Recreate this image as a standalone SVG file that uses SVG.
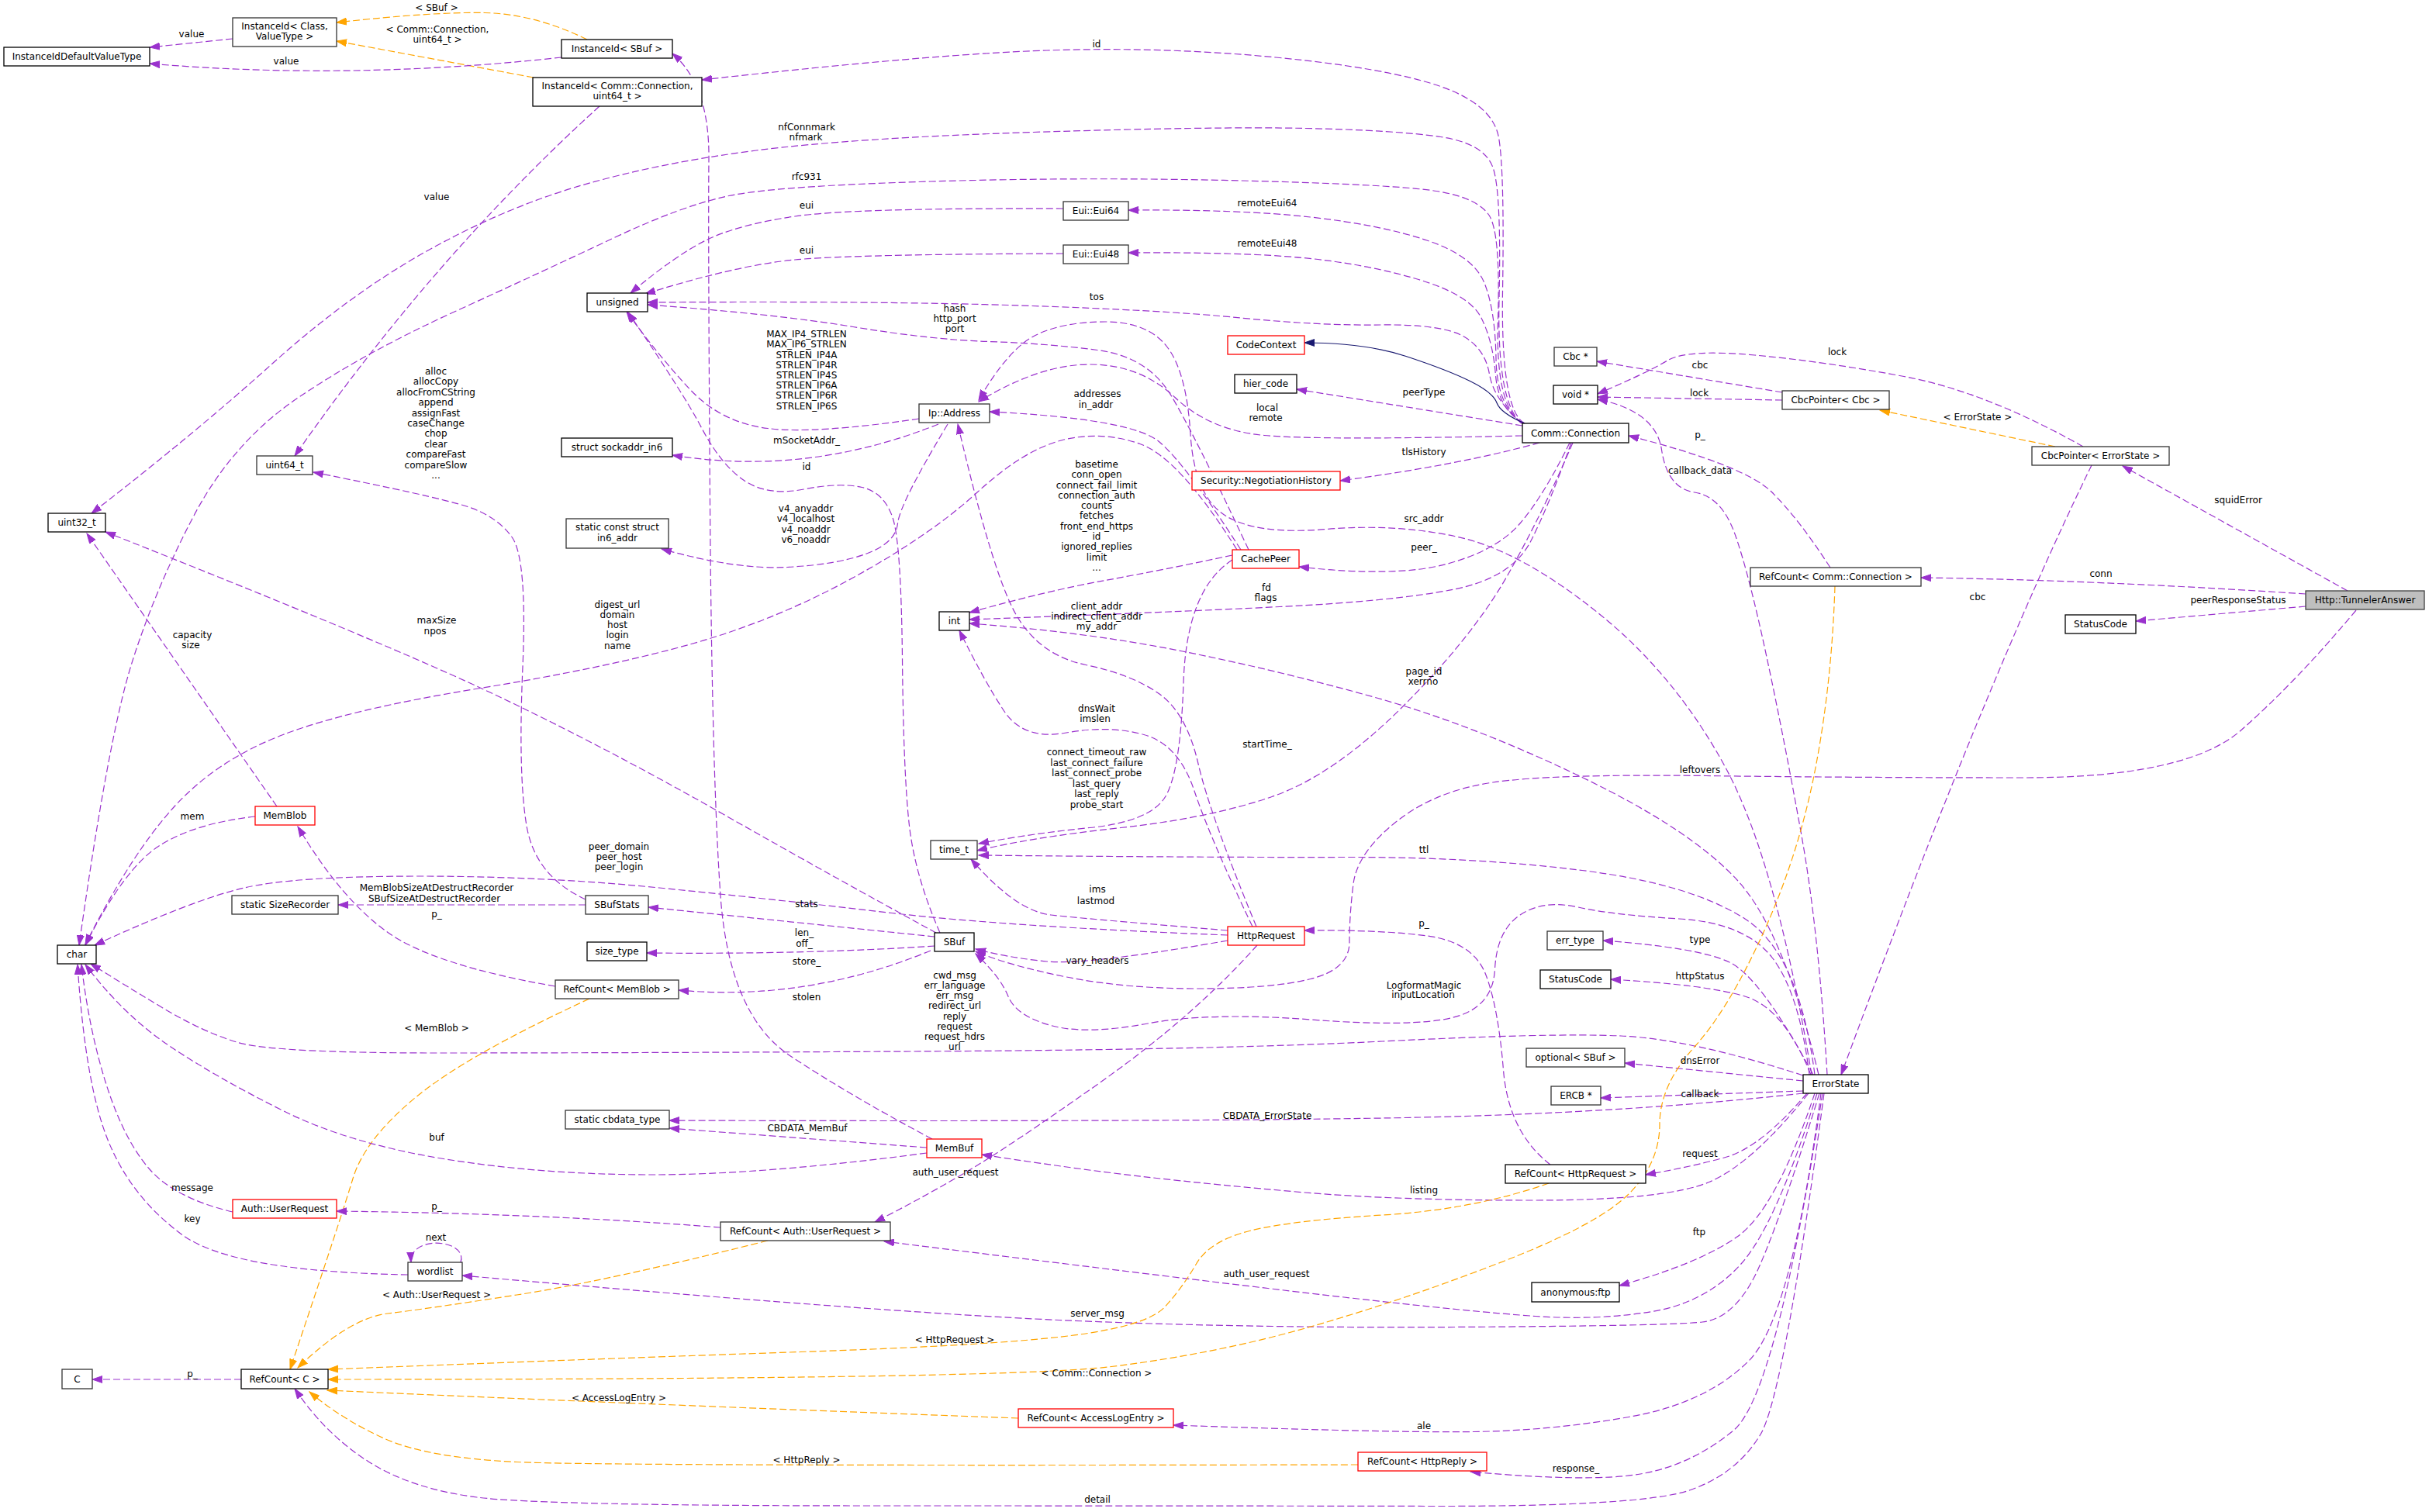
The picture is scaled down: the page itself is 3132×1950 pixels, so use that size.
<svg xmlns="http://www.w3.org/2000/svg" width="3132" height="1950" viewBox="0 0 3132 1950">
<style>
.nd rect{fill:#fff;stroke:#000;stroke-width:1.3}
.gy rect{stroke:#333}
.rd rect{stroke:#f00}
.fl rect{fill:#bfbfbf;stroke:#404040}
text{font-family:"DejaVu Sans","Liberation Sans",sans-serif;font-size:12px;fill:#000;text-anchor:middle}
.c{fill:none;stroke-width:1.2;stroke-dasharray:9,4}
.u{stroke:#9a32cd;marker-end:url(#au)}
.t{stroke:#ffa500;marker-end:url(#at)}
.i{stroke:#191970;stroke-dasharray:none;marker-end:url(#ai)}
</style>
<defs>
<marker id="au" markerUnits="userSpaceOnUse" markerWidth="14" markerHeight="10" viewBox="0 0 14 10" refX="13" refY="5" orient="auto"><path d="M0,0.5 L13,5 L0,9.5 z" fill="#9a32cd" stroke="#9a32cd"/></marker>
<marker id="at" markerUnits="userSpaceOnUse" markerWidth="14" markerHeight="10" viewBox="0 0 14 10" refX="13" refY="5" orient="auto"><path d="M0,0.5 L13,5 L0,9.5 z" fill="#ffa500" stroke="#ffa500"/></marker>
<marker id="ai" markerUnits="userSpaceOnUse" markerWidth="14" markerHeight="10" viewBox="0 0 14 10" refX="13" refY="5" orient="auto"><path d="M0,0.5 L13,5 L0,9.5 z" fill="#191970" stroke="#191970"/></marker>
</defs>
<rect width="3132" height="1950" fill="#fff"/>
<g id="connectors">
<path class="c t" d="M757,51 Q690,18 625,16.5 Q560,15 434,29"/>
<path class="c t" d="M688,100 L434,53"/>
<path class="c u" d="M300,50 L193,61"/>
<path class="c u" d="M724,74 Q450,104 193,82"/>
<path class="c u" d="M773,137 Q560,330 380,588"/>
<path class="c u" d="M1966,546 Q1935,530 1937.5,375 Q1940,220 1932.5,177.5 Q1925,135 1857.5,111.5 Q1790,88 1645,74 Q1500,60 1350,65 Q1200,70 905,103"/>
<path class="c u" d="M1962,546 Q1930,520 1933,385 Q1936,250 1925.5,217.5 Q1915,185 1857.5,176.5 Q1800,168 1682.5,165.5 Q1565,163 1332.5,170.5 Q1100,178 975,194 Q850,210 750,239 Q650,268 550,324 Q450,380 350,470 Q250,560 118,662"/>
<path class="c u" d="M1963,546 Q1928,525 1931.5,412.5 Q1935,300 1920,277.5 Q1905,255 1852.5,246.5 Q1800,238 1600,233 Q1400,228 1200,234 Q1000,240 940,252.5 Q880,265 790,307.5 Q700,350 585,402.5 Q470,455 385,512.5 Q300,570 250,665 Q200,760 170,855 Q140,950 102,1219"/>
<path class="c u" d="M1964,546 Q1930,525 1929,462.5 Q1928,400 1914,365 Q1900,330 1840,310 Q1780,290 1690,280 Q1600,270 1455,271"/>
<path class="c u" d="M1965,546 Q1932,528 1928.5,484 Q1925,440 1910,410 Q1895,380 1827.5,360 Q1760,340 1680,332.5 Q1600,325 1455,326"/>
<path class="c u" d="M1371,269 Q1100,268 1025,279 Q950,290 910,310 Q870,330 813,378"/>
<path class="c u" d="M1371,327 Q1100,328 1025,335 Q950,342 832,379"/>
<path class="c u" d="M1962,546 Q1926,515 1920.5,482.5 Q1915,450 1887.5,434 Q1860,418 1780,419 Q1700,420 1600,410 Q1500,400 1316,394 Q1132,388 835,390"/>
<path class="c i" d="M1966,546 Q1935,533 1930,519.5 Q1925,506 1895.5,491.5 Q1866,477 1813,459.5 Q1760,442 1682,442"/>
<path class="c u" d="M1963,549 L1672,502"/>
<path class="c u" d="M1963,562 Q1700,568 1630,561.5 Q1560,555 1515,512.5 Q1470,470 1405,470 Q1340,470 1262,518"/>
<path class="c u" d="M1985,571 Q1880,600 1728,620"/>
<path class="c u" d="M2024,571 Q1990,640 1960,675 Q1930,710 1865,727.5 Q1800,745 1675,731"/>
<path class="c u" d="M2026,571 Q1998,650 1974,697.5 Q1950,745 1875,760 Q1800,775 1650,782.5 Q1500,790 1250,799"/>
<path class="c u" d="M2028,571 Q1990,660 1945,740 Q1900,820 1810,910 Q1720,1000 1640,1027.5 Q1560,1055 1445,1067.5 Q1330,1080 1260,1097"/>
<path class="c u" d="M2360,732 Q2320,670 2285,635 Q2250,600 2100,562"/>
<path class="c u" d="M2356,1386 Q2345,1200 2322.5,1075 Q2300,950 2277.5,845 Q2255,740 2237.5,690 Q2220,640 2185,635 Q2150,630 2142.5,580 Q2135,530 2060,515"/>
<path class="c u" d="M2298,506 L2059,466"/>
<path class="c u" d="M2298,516 L2060,512"/>
<path class="c u" d="M2686,576 Q2560,505 2455,485.5 Q2350,466 2262.5,458 Q2175,450 2150,465 Q2125,480 2060,508"/>
<path class="c t" d="M2650,576 L2424,529"/>
<path class="c u" d="M3027,762 L2737,601"/>
<path class="c u" d="M2973,766 Q2700,748 2477,745"/>
<path class="c u" d="M2973,782 L2754,801"/>
<path class="c u" d="M3038,787 Q2960,880 2890,941.5 Q2820,1003 2610,1003 Q2400,1003 2200,1000.5 Q2000,998 1925,1009 Q1850,1020 1800,1060 Q1750,1100 1745,1140 Q1740,1180 1740,1215 Q1740,1250 1690,1262.5 Q1640,1275 1545,1275 Q1450,1275 1375,1260 Q1300,1245 1258,1227"/>
<path class="c u" d="M2697,600 Q2560,880 2374,1386"/>
<path class="c u" d="M2338,1386 Q2270,1260 2230,1241 Q2190,1222 2067,1213"/>
<path class="c u" d="M2335,1386 Q2300,1300 2250,1285 Q2200,1270 2077,1263"/>
<path class="c u" d="M2325,1394 L2095,1371"/>
<path class="c u" d="M2325,1407 L2064,1416"/>
<path class="c u" d="M2325,1410 Q2100,1435 1833,1441 Q1566,1447 863,1445"/>
<path class="c u" d="M2330,1410 Q2270,1480 2225,1492.5 Q2180,1505 2122,1515"/>
<path class="c u" d="M2332,1410 Q2260,1500 2205,1524 Q2150,1548 1975,1548 Q1800,1548 1683,1538 Q1566,1528 1474,1517.5 Q1382,1507 1266,1489"/>
<path class="c u" d="M2340,1410 Q2290,1560 2240,1595 Q2190,1630 2088,1658"/>
<path class="c u" d="M2343,1410 Q2290,1580 2245,1630 Q2200,1680 2130,1691.5 Q2060,1703 1980,1697.5 Q1900,1692 1733,1673 Q1566,1654 1140,1601"/>
<path class="c u" d="M2346,1410 Q2300,1560 2270,1630 Q2240,1700 2195,1705 Q2150,1710 1875,1711.5 Q1600,1713 1366,1702.5 Q1132,1692 596,1645"/>
<path class="c u" d="M2348,1410 Q2310,1700 2255,1755 Q2200,1810 2100,1827.5 Q2000,1845 1900,1846.5 Q1800,1848 1513,1838"/>
<path class="c u" d="M2350,1410 Q2290,1800 2235,1845 Q2180,1890 2115,1901 Q2050,1912 1896,1898"/>
<path class="c u" d="M2352,1410 Q2300,1800 2270,1850 Q2240,1900 2180,1921.5 Q2120,1943 1843,1942.5 Q1566,1942 1133,1942 Q700,1942 615,1931 Q530,1920 475,1885 Q420,1850 380,1791"/>
<path class="c u" d="M2325,1387 Q2180,1340 2090,1336 Q2000,1332 1782.5,1343 Q1565,1354 1174,1356 Q783,1358 566.5,1358 Q350,1358 305,1344 Q260,1330 210,1300 Q160,1270 117,1243"/>
<path class="c u" d="M2333,1386 Q2320,1280 2285,1235 Q2250,1190 2165,1185 Q2080,1180 2035,1170 Q1990,1160 1960,1180 Q1930,1200 1927.5,1250 Q1925,1300 1872.5,1312.5 Q1820,1325 1690,1315 Q1560,1305 1480,1320 Q1400,1335 1355,1322.5 Q1310,1310 1300,1285 Q1290,1260 1258,1230"/>
<path class="c u" d="M2340,1386 Q2320,1230 2250,1185 Q2180,1140 2040,1122.5 Q1900,1105 1733,1105.5 Q1566,1106 1262,1103"/>
<path class="c u" d="M2345,1386 Q2300,1200 2240,1135 Q2180,1070 2040,1002.5 Q1900,935 1775,900 Q1650,865 1525,840 Q1400,815 1250,804"/>
<path class="c u" d="M2336,1386 Q2290,1110 2225,990 Q2160,870 2060,790 Q1960,710 1880,692.5 Q1800,675 1710,682.5 Q1620,690 1580,665 Q1540,640 1535,560 Q1530,480 1505,447.5 Q1480,415 1425,415 Q1370,415 1335,432.5 Q1300,450 1262,516"/>
<path class="c u" d="M1620,1195 Q1560,1050 1545,985 Q1530,920 1495,895 Q1460,870 1400,857.5 Q1340,845 1310,792.5 Q1280,740 1235,547"/>
<path class="c u" d="M1615,1195 Q1560,1080 1540,1020 Q1520,960 1475,947.5 Q1430,935 1375,945 Q1320,955 1295,917.5 Q1270,880 1237,813"/>
<path class="c u" d="M1583,1200 Q1400,1185 1355,1180 Q1310,1175 1252,1108"/>
<path class="c u" d="M1589,722 Q1530,760 1526,880 Q1522,1000 1501,1030 Q1480,1060 1405,1067.5 Q1330,1075 1262,1088"/>
<path class="c u" d="M1589,716 Q1500,735 1425,748.5 Q1350,762 1250,790"/>
<path class="c u" d="M1595,709 Q1520,590 1470,572.5 Q1420,555 1370,567.5 Q1320,580 1260,635 Q1200,690 1100,745 Q1000,800 891.5,830.5 Q783,861 616.5,888 Q450,915 365,947.5 Q280,980 225,1040 Q170,1100 110,1218"/>
<path class="c u" d="M1610,709 Q1540,560 1510,510 Q1480,460 1415,451.5 Q1350,443 1275,440.5 Q1200,438 1100,421.5 Q1000,405 835,393"/>
<path class="c u" d="M1600,709 Q1530,600 1495,570 Q1460,540 1276,531"/>
<path class="c u" d="M1185,540 Q1050,560 990,552.5 Q930,545 890,502.5 Q850,460 808,402"/>
<path class="c u" d="M1210,547 Q1040,615 867,587"/>
<path class="c u" d="M1222,547 Q1160,650 1157.5,675 Q1155,700 1117.5,714 Q1080,728 1015,731.5 Q950,735 853,708"/>
<path class="c u" d="M1212,1203 Q1180,1130 1172.5,1065 Q1165,1000 1163.5,850 Q1162,700 1151,667.5 Q1140,635 1111.5,628.5 Q1083,622 1036.5,631 Q990,640 960,620 Q930,600 905,552.5 Q880,505 810,403"/>
<path class="c u" d="M1202,1469 Q1100,1415 1020,1362.5 Q940,1310 929,1155 Q918,1000 915.5,650 Q913,300 914,205 Q915,110 867,69"/>
<path class="c u" d="M1207,1203 Q1082,1135 932.5,1050 Q783,965 641.5,897.5 Q500,830 136,686"/>
<path class="c u" d="M1205,1208 L836,1170"/>
<path class="c u" d="M1205,1220 Q1040,1231 834,1229"/>
<path class="c u" d="M1200,1226 Q1040,1292 875,1277"/>
<path class="c u" d="M755,1167 L436,1167"/>
<path class="c u" d="M755,1160 Q690,1130 679,1065 Q668,1000 674,860 Q680,720 660,692.5 Q640,665 600,652.5 Q560,640 404,609"/>
<path class="c u" d="M716,1272 Q560,1245 500,1202.5 Q440,1160 384,1066"/>
<path class="c t" d="M760,1288 Q600,1362 535,1416 Q470,1470 455,1520 Q440,1570 374,1766"/>
<path class="c u" d="M357,1040 L112,688"/>
<path class="c u" d="M329,1053 Q250,1062 205,1091 Q160,1120 110,1219"/>
<path class="c u" d="M1583,1206 Q1300,1195 1150,1177.5 Q1000,1160 850,1145 Q700,1130 540,1130 Q380,1130 315,1145 Q250,1160 122,1219"/>
<path class="c u" d="M1583,1213 Q1400,1245 1350,1240 Q1300,1235 1258,1224"/>
<path class="c u" d="M1621,1219 Q1540,1310 1420,1395 Q1300,1480 1240,1515 Q1180,1550 1128,1576"/>
<path class="c u" d="M1195,1480 L863,1455"/>
<path class="c u" d="M1195,1487 Q983,1515 841.5,1515 Q700,1515 575,1495 Q450,1475 365,1432.5 Q280,1390 220,1350 Q160,1310 110,1244"/>
<path class="c u" d="M300,1563 Q225,1545 192.5,1507.5 Q160,1470 137.5,1400 Q115,1330 105,1244"/>
<path class="c u" d="M526,1644 Q300,1640 235,1592.5 Q170,1545 140,1472.5 Q110,1400 100,1244"/>
<path class="c u" d="M929,1583 Q700,1565 434,1562"/>
<path class="c t" d="M990,1600 Q783,1652 666.5,1670 Q550,1688 500,1694 Q450,1700 384,1764"/>
<path class="c u" d="M594,1628 C604,1598 528,1592 530,1628"/>
<path class="c u" d="M311,1779 L119,1779"/>
<path class="c t" d="M1997,1526 Q1900,1560 1783,1567 Q1666,1574 1613,1587 Q1560,1600 1542.5,1630 Q1525,1660 1502.5,1685 Q1480,1710 1381,1722.5 Q1282,1735 1032.5,1743.5 Q783,1752 423,1766"/>
<path class="c u" d="M1999,1502 Q1945,1460 1938.5,1380 Q1932,1300 1916,1257.5 Q1900,1215 1840,1207 Q1780,1199 1682,1200"/>
<path class="c t" d="M2366,756 Q2362,880 2341,990 Q2320,1100 2275,1200 Q2230,1300 2185,1350 Q2140,1400 2140,1450 Q2140,1500 2100,1540 Q2060,1580 1930,1630 Q1800,1680 1683,1713 Q1566,1746 1433,1762.5 Q1300,1779 423,1779"/>
<path class="c t" d="M1313,1829 Q800,1810 422,1793"/>
<path class="c t" d="M1751,1889 Q783,1891 666.5,1885.5 Q550,1880 495,1855 Q440,1830 399,1795"/>
</g>
<g id="connector-labels">
<text x="563" y="14">&lt; SBuf &gt;</text>
<text x="247" y="48">value</text>
<text x="564" y="42">&lt; Comm::Connection,</text>
<text x="564" y="55">uint64_t &gt;</text>
<text x="369" y="83">value</text>
<text x="1414" y="61">id</text>
<text x="1040" y="168">nfConnmark</text>
<text x="1039" y="181">nfmark</text>
<text x="1040" y="232">rfc931</text>
<text x="563" y="258">value</text>
<text x="1040" y="269">eui</text>
<text x="1634" y="266">remoteEui64</text>
<text x="1040" y="327">eui</text>
<text x="1634" y="318">remoteEui48</text>
<text x="1414" y="387">tos</text>
<text x="1231" y="402">hash</text>
<text x="1231" y="415">http_port</text>
<text x="1231" y="428">port</text>
<text x="1040" y="435">MAX_IP4_STRLEN</text>
<text x="1040" y="448">MAX_IP6_STRLEN</text>
<text x="1040" y="462">STRLEN_IP4A</text>
<text x="1040" y="475">STRLEN_IP4R</text>
<text x="1040" y="488">STRLEN_IP4S</text>
<text x="1040" y="501">STRLEN_IP6A</text>
<text x="1040" y="514">STRLEN_IP6R</text>
<text x="1040" y="528">STRLEN_IP6S</text>
<text x="562" y="483">alloc</text>
<text x="562" y="496">allocCopy</text>
<text x="562" y="510">allocFromCString</text>
<text x="562" y="523">append</text>
<text x="562" y="537">assignFast</text>
<text x="562" y="550">caseChange</text>
<text x="562" y="563">chop</text>
<text x="562" y="577">clear</text>
<text x="562" y="590">compareFast</text>
<text x="562" y="604">compareSlow</text>
<text x="562" y="617">...</text>
<text x="1634" y="530">local</text>
<text x="1632" y="543">remote</text>
<text x="1836" y="510">peerType</text>
<text x="1836" y="587">tlsHistory</text>
<text x="1415" y="512">addresses</text>
<text x="1413" y="526">in_addr</text>
<text x="1040" y="572">mSocketAddr_</text>
<text x="1040" y="606">id</text>
<text x="1414" y="603">basetime</text>
<text x="1414" y="616">conn_open</text>
<text x="1414" y="630">connect_fail_limit</text>
<text x="1414" y="643">connection_auth</text>
<text x="1414" y="656">counts</text>
<text x="1414" y="669">fetches</text>
<text x="1414" y="683">front_end_https</text>
<text x="1414" y="696">id</text>
<text x="1414" y="709">ignored_replies</text>
<text x="1414" y="723">limit</text>
<text x="1414" y="736">...</text>
<text x="1039" y="660">v4_anyaddr</text>
<text x="1039" y="673">v4_localhost</text>
<text x="1039" y="687">v4_noaddr</text>
<text x="1039" y="700">v6_noaddr</text>
<text x="1836" y="673">src_addr</text>
<text x="1836" y="710">peer_</text>
<text x="1633" y="762">fd</text>
<text x="1632" y="775">flags</text>
<text x="1414" y="786">client_addr</text>
<text x="1414" y="799">indirect_client_addr</text>
<text x="1414" y="812">my_addr</text>
<text x="796" y="784">digest_url</text>
<text x="796" y="797">domain</text>
<text x="796" y="810">host</text>
<text x="796" y="823">login</text>
<text x="796" y="837">name</text>
<text x="248" y="823">capacity</text>
<text x="246" y="836">size</text>
<text x="563" y="804">maxSize</text>
<text x="561" y="818">npos</text>
<text x="1836" y="870">page_id</text>
<text x="1835" y="883">xerrno</text>
<text x="1414" y="918">dnsWait</text>
<text x="1412" y="931">imslen</text>
<text x="1634" y="964">startTime_</text>
<text x="2192" y="997">leftovers</text>
<text x="1414" y="974">connect_timeout_raw</text>
<text x="1414" y="988">last_connect_failure</text>
<text x="1414" y="1001">last_connect_probe</text>
<text x="1414" y="1015">last_query</text>
<text x="1414" y="1028">last_reply</text>
<text x="1414" y="1042">probe_start</text>
<text x="248" y="1057">mem</text>
<text x="1836" y="1100">ttl</text>
<text x="798" y="1096">peer_domain</text>
<text x="798" y="1109">peer_host</text>
<text x="798" y="1122">peer_login</text>
<text x="1415" y="1151">ims</text>
<text x="1413" y="1166">lastmod</text>
<text x="563" y="1149">MemBlobSizeAtDestructRecorder</text>
<text x="560" y="1163">SBufSizeAtDestructRecorder</text>
<text x="1040" y="1170">stats</text>
<text x="2192" y="1216">type</text>
<text x="563" y="1183">p_</text>
<text x="1836" y="1195">p_</text>
<text x="1037" y="1207">len_</text>
<text x="1037" y="1221">off_</text>
<text x="1415" y="1243">vary_headers</text>
<text x="1040" y="1244">store_</text>
<text x="2192" y="1263">httpStatus</text>
<text x="1836" y="1275">LogformatMagic</text>
<text x="1835" y="1287">inputLocation</text>
<text x="1231" y="1262">cwd_msg</text>
<text x="1231" y="1275">err_language</text>
<text x="1231" y="1288">err_msg</text>
<text x="1231" y="1301">redirect_url</text>
<text x="1231" y="1315">reply</text>
<text x="1231" y="1328">request</text>
<text x="1231" y="1341">request_hdrs</text>
<text x="1231" y="1354">url</text>
<text x="563" y="1330">&lt; MemBlob &gt;</text>
<text x="1040" y="1290">stolen</text>
<text x="2192" y="1372">dnsError</text>
<text x="1634" y="1443">CBDATA_ErrorState</text>
<text x="2192" y="1415">callback</text>
<text x="563" y="1471">buf</text>
<text x="1041" y="1459">CBDATA_MemBuf</text>
<text x="1232" y="1516">auth_user_request</text>
<text x="2192" y="1492">request</text>
<text x="1836" y="1539">listing</text>
<text x="248" y="1536">message</text>
<text x="563" y="1560">p_</text>
<text x="248" y="1576">key</text>
<text x="562" y="1600">next</text>
<text x="2191" y="1593">ftp</text>
<text x="1633" y="1647">auth_user_request</text>
<text x="563" y="1674">&lt; Auth::UserRequest &gt;</text>
<text x="1415" y="1698">server_msg</text>
<text x="1231" y="1732">&lt; HttpRequest &gt;</text>
<text x="1414" y="1775">&lt; Comm::Connection &gt;</text>
<text x="248" y="1776">p_</text>
<text x="798" y="1807">&lt; AccessLogEntry &gt;</text>
<text x="1836" y="1843">ale</text>
<text x="1040" y="1887">&lt; HttpReply &gt;</text>
<text x="2032" y="1898">response_</text>
<text x="1415" y="1938">detail</text>
<text x="2191" y="511">lock</text>
<text x="2192" y="475">cbc</text>
<text x="2369" y="458">lock</text>
<text x="2550" y="542">&lt; ErrorState &gt;</text>
<text x="2192" y="565">p_</text>
<text x="2192" y="611">callback_data</text>
<text x="2886" y="649">squidError</text>
<text x="2709" y="744">conn</text>
<text x="2550" y="774">cbc</text>
<text x="2886" y="778">peerResponseStatus</text>
</g>
<g id="n1" class="nd"><rect x="5" y="61" width="188" height="24"/><text x="99" y="77">InstanceIdDefaultValueType</text></g>
<g id="n2" class="nd gy"><rect x="300" y="23" width="134" height="37"/><text x="367" y="38">InstanceId&lt; Class,</text><text x="367" y="51">ValueType &gt;</text></g>
<g id="n3" class="nd"><rect x="724" y="51" width="143" height="24"/><text x="795.5" y="67">InstanceId&lt; SBuf &gt;</text></g>
<g id="n4" class="nd"><rect x="687" y="100" width="218" height="37"/><text x="796" y="115">InstanceId&lt; Comm::Connection,</text><text x="796" y="128">uint64_t &gt;</text></g>
<g id="n5" class="nd gy"><rect x="331" y="588" width="72" height="24"/><text x="367" y="604">uint64_t</text></g>
<g id="n6" class="nd"><rect x="757" y="378" width="78" height="24"/><text x="796" y="394">unsigned</text></g>
<g id="n7" class="nd"><rect x="724" y="565" width="143" height="24"/><text x="795.5" y="581">struct sockaddr_in6</text></g>
<g id="n8" class="nd gy"><rect x="730" y="669" width="132" height="38"/><text x="796" y="684">static const struct</text><text x="796" y="698">in6_addr</text></g>
<g id="n9" class="nd"><rect x="62" y="662" width="74" height="24"/><text x="99" y="678">uint32_t</text></g>
<g id="n10" class="nd rd"><rect x="329" y="1040" width="77" height="24"/><text x="367.5" y="1056">MemBlob</text></g>
<g id="n11" class="nd gy"><rect x="299" y="1155" width="137" height="24"/><text x="367.5" y="1171">static SizeRecorder</text></g>
<g id="n12" class="nd"><rect x="74" y="1219" width="50" height="24"/><text x="99" y="1235">char</text></g>
<g id="n13" class="nd gy"><rect x="755" y="1155" width="81" height="24"/><text x="795.5" y="1171">SBufStats</text></g>
<g id="n14" class="nd"><rect x="757" y="1215" width="77" height="24"/><text x="795.5" y="1231">size_type</text></g>
<g id="n15" class="nd gy"><rect x="716" y="1264" width="159" height="24"/><text x="795.5" y="1280">RefCount&lt; MemBlob &gt;</text></g>
<g id="n16" class="nd"><rect x="1211" y="789" width="39" height="24"/><text x="1230.5" y="805">int</text></g>
<g id="n17" class="nd gy"><rect x="1200" y="1084" width="60" height="24"/><text x="1230" y="1100">time_t</text></g>
<g id="n18" class="nd"><rect x="1205" y="1203" width="51" height="24"/><text x="1230.5" y="1219">SBuf</text></g>
<g id="n19" class="nd gy"><rect x="1371" y="260" width="84" height="24"/><text x="1413" y="276">Eui::Eui64</text></g>
<g id="n20" class="nd gy"><rect x="1371" y="316" width="84" height="24"/><text x="1413" y="332">Eui::Eui48</text></g>
<g id="n21" class="nd gy"><rect x="1185" y="521" width="91" height="24"/><text x="1230.5" y="537">Ip::Address</text></g>
<g id="n22" class="nd rd"><rect x="1537" y="608" width="191" height="24"/><text x="1632.5" y="624">Security::NegotiationHistory</text></g>
<g id="n23" class="nd rd"><rect x="1583" y="433" width="99" height="24"/><text x="1632.5" y="449">CodeContext</text></g>
<g id="n24" class="nd"><rect x="1592" y="483" width="80" height="24"/><text x="1632" y="499">hier_code</text></g>
<g id="n25" class="nd gy"><rect x="2004" y="448" width="55" height="24"/><text x="2031.5" y="464">Cbc *</text></g>
<g id="n26" class="nd"><rect x="2003" y="497" width="57" height="24"/><text x="2031.5" y="513">void *</text></g>
<g id="n27" class="nd"><rect x="1963" y="546" width="137" height="25"/><text x="2031.5" y="562.5">Comm::Connection</text></g>
<g id="n28" class="nd gy"><rect x="2298" y="504" width="138" height="24"/><text x="2367" y="520">CbcPointer&lt; Cbc &gt;</text></g>
<g id="n29" class="nd gy"><rect x="2620" y="576" width="177" height="24"/><text x="2708.5" y="592">CbcPointer&lt; ErrorState &gt;</text></g>
<g id="n30" class="nd rd"><rect x="1589" y="709" width="86" height="24"/><text x="1632" y="725">CachePeer</text></g>
<g id="n31" class="nd gy"><rect x="2257" y="732" width="220" height="24"/><text x="2367" y="748">RefCount&lt; Comm::Connection &gt;</text></g>
<g id="n32" class="nd rd"><rect x="1583" y="1195" width="99" height="24"/><text x="1632.5" y="1211">HttpRequest</text></g>
<g id="n33" class="nd gy"><rect x="1995" y="1201" width="72" height="24"/><text x="2031" y="1217">err_type</text></g>
<g id="n34" class="nd"><rect x="1986" y="1251" width="91" height="24"/><text x="2031.5" y="1267">StatusCode</text></g>
<g id="n35" class="nd"><rect x="2663" y="793" width="91" height="24"/><text x="2708.5" y="809">StatusCode</text></g>
<g id="n36" class="nd fl"><rect x="2973" y="762" width="153" height="24"/><text x="3049.5" y="778">Http::TunnelerAnswer</text></g>
<g id="n37" class="nd rd"><rect x="300" y="1547" width="134" height="24"/><text x="367" y="1563">Auth::UserRequest</text></g>
<g id="n38" class="nd gy"><rect x="526" y="1628" width="70" height="24"/><text x="561" y="1644">wordlist</text></g>
<g id="n39" class="nd gy"><rect x="80" y="1766" width="39" height="25"/><text x="99.5" y="1782.5">C</text></g>
<g id="n40" class="nd"><rect x="311" y="1766" width="112" height="25"/><text x="367" y="1782.5">RefCount&lt; C &gt;</text></g>
<g id="n41" class="nd gy"><rect x="729" y="1432" width="134" height="24"/><text x="796" y="1448">static cbdata_type</text></g>
<g id="n42" class="nd rd"><rect x="1195" y="1469" width="71" height="24"/><text x="1230.5" y="1485">MemBuf</text></g>
<g id="n43" class="nd gy"><rect x="929" y="1576" width="219" height="24"/><text x="1038.5" y="1592">RefCount&lt; Auth::UserRequest &gt;</text></g>
<g id="n44" class="nd rd"><rect x="1313" y="1817" width="200" height="24"/><text x="1413" y="1833">RefCount&lt; AccessLogEntry &gt;</text></g>
<g id="n45" class="nd gy"><rect x="1968" y="1352" width="127" height="24"/><text x="2031.5" y="1368">optional&lt; SBuf &gt;</text></g>
<g id="n46" class="nd gy"><rect x="2000" y="1401" width="64" height="24"/><text x="2032" y="1417">ERCB *</text></g>
<g id="n47" class="nd"><rect x="1941" y="1502" width="181" height="24"/><text x="2031.5" y="1518">RefCount&lt; HttpRequest &gt;</text></g>
<g id="n48" class="nd"><rect x="1975" y="1654" width="113" height="25"/><text x="2031.5" y="1670.5">anonymous:ftp</text></g>
<g id="n49" class="nd rd"><rect x="1751" y="1873" width="166" height="24"/><text x="1834" y="1889">RefCount&lt; HttpReply &gt;</text></g>
<g id="n50" class="nd"><rect x="2325" y="1386" width="84" height="24"/><text x="2367" y="1402">ErrorState</text></g>
</svg>
